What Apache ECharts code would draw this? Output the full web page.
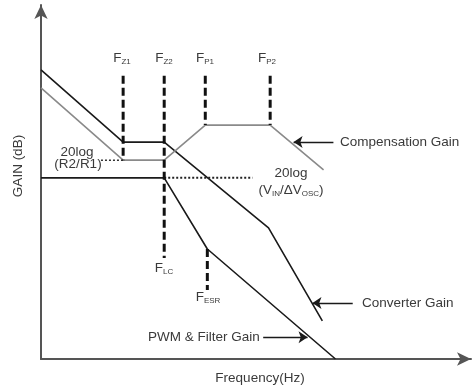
<!DOCTYPE html>
<html>
<head>
<meta charset="utf-8">
<script src="https://cdn.jsdelivr.net/npm/echarts@6/dist/echarts.min.js"></script>
<style>
html, body { margin: 0; padding: 0; background: #fff; }
#chart { width: 472px; height: 385px; }
</style>
</head>
<body>
<div id="chart"></div>
<script>
// x: log frequency (arbitrary decades), y: gain (arbitrary dB units)
var converterX = [0, 2, 3, 5.54, 6.85];
var converterY = [83.3, 62.5, 62.5, 37.8, 11.0];
var compX = [0, 2, 3, 4, 5.58, 6.88];
var compY = [78.1, 57.3, 57.3, 67.4, 67.4, 54.5];
var pwmX = [0, 3, 4.05, 7.17];
var pwmY = [52.2, 52.2, 31.7, 0];

// break frequencies Fz1, Fz2(=Flc), Fp1, Fp2
var breakNames = ['Z1', 'Z2', 'P1', 'P2'];
var breakX = [2, 3, 4, 5.58];
var breakTop = 81.6;
var breakBottom = [57.3, 29.1, 67.4, 67.4];
var esrX = 4.05;
var esrY = [31.7, 19.9];

// dotted reference levels
var r2r1X = [1.46, 2];
var r2r1Y = 57.3;
var vinX = [3, 5.15];
var vinY = 52.2;

// annotation arrows [fromX, fromY, toX, toY]
var compArrow = [7.12, 62.5, 6.15, 62.5];
var convArrow = [7.59, 16.1, 6.61, 16.1];
var pwmArrow = [5.41, 6.3, 6.49, 6.3];

var FONT = '"Liberation Sans", Arial, sans-serif';
var TXT = '#3a3a3a';

function pairs(xs, ys) {
  return xs.map(function (x, i) { return [x, ys[i]]; });
}

var dashSeries = breakX.map(function (x, i) {
  return {
    type: 'line', silent: true, showSymbol: false,
    lineStyle: { color: '#111', width: 3, type: [8, 4] },
    data: [[x, breakTop], [x, breakBottom[i]]]
  };
});
dashSeries.push({
  type: 'line', silent: true, showSymbol: false,
  lineStyle: { color: '#111', width: 3, type: [8, 4] },
  data: [[esrX, esrY[0]], [esrX, esrY[1]]]
});

function arrow(a) {
  return [{ coord: [a[0], a[1]] }, { coord: [a[2], a[3]] }];
}

function txt(x, y, text, align, extra) {
  var el = {
    type: 'text', x: x, y: y, silent: true,
    style: {
      text: text, fill: TXT, fontSize: 13.5, fontFamily: FONT,
      textAlign: align || 'center', textVerticalAlign: 'middle',
      rich: { s: { fontSize: 8, fontFamily: FONT, fill: TXT, padding: [7, 0, 0, 0] } }
    }
  };
  if (extra) Object.assign(el, extra);
  return el;
}

var chart = echarts.init(document.getElementById('chart'));
chart.setOption({
  animation: false,
  grid: { left: 41, right: 1, top: 5, bottom: 26 },
  xAxis: {
    type: 'value', min: 0, max: 10.47,
    axisLine: { show: true, symbol: ['none', 'arrow'], symbolSize: [10, 14],
      lineStyle: { color: '#555', width: 2 } },
    axisTick: { show: false }, axisLabel: { show: false }, splitLine: { show: false }
  },
  yAxis: {
    type: 'value', min: 0, max: 102,
    axisLine: { show: true, symbol: ['none', 'arrow'], symbolSize: [10, 14],
      lineStyle: { color: '#555', width: 2 } },
    axisTick: { show: false }, axisLabel: { show: false }, splitLine: { show: false }
  },
  series: [
    {
      name: 'Converter Gain', type: 'line', silent: true, showSymbol: false,
      lineStyle: { color: '#1a1a1a', width: 1.6 },
      data: pairs(converterX, converterY),
      markLine: {
        silent: true, symbol: ['none', 'arrow'], symbolSize: 9,
        label: { show: false },
        lineStyle: { color: '#1a1a1a', width: 1.4, type: 'solid' },
        data: [arrow(compArrow), arrow(convArrow), arrow(pwmArrow)]
      }
    },
    {
      name: 'Compensation Gain', type: 'line', silent: true, showSymbol: false,
      lineStyle: { color: '#8a8a8a', width: 1.6 },
      data: pairs(compX, compY)
    },
    {
      name: 'PWM & Filter Gain', type: 'line', silent: true, showSymbol: false,
      lineStyle: { color: '#1a1a1a', width: 1.6 },
      data: pairs(pwmX, pwmY)
    },
    {
      type: 'line', silent: true, showSymbol: false,
      lineStyle: { color: '#333', width: 1.5, type: [2, 2] },
      data: [[r2r1X[0], r2r1Y], [r2r1X[1], r2r1Y]]
    },
    {
      type: 'line', silent: true, showSymbol: false,
      lineStyle: { color: '#222', width: 2, type: [2, 2] },
      data: [[vinX[0], vinY], [vinX[1], vinY]]
    }
  ].concat(dashSeries),
  graphic: [
    txt(122, 58, 'F{s|Z1}'),
    txt(164, 58, 'F{s|Z2}'),
    txt(205, 58, 'F{s|P1}'),
    txt(267, 58, 'F{s|P2}'),
    txt(164, 268, 'F{s|LC}'),
    txt(208, 297, 'F{s|ESR}'),
    txt(77, 152, '20log'),
    txt(78, 164, '(R2/R1)'),
    txt(291, 173, '20log'),
    txt(291, 190, '(V{s|IN}/\u0394V{s|OSC})'),
    txt(340, 142, 'Compensation Gain', 'left'),
    txt(362, 303, 'Converter Gain', 'left'),
    txt(148, 337, 'PWM & Filter Gain', 'left'),
    txt(260, 378, 'Frequency(Hz)'),
    txt(18, 166, 'GAIN (dB)', 'center', { rotation: Math.PI / 2 })
  ]
});
</script>
</body>
</html>
